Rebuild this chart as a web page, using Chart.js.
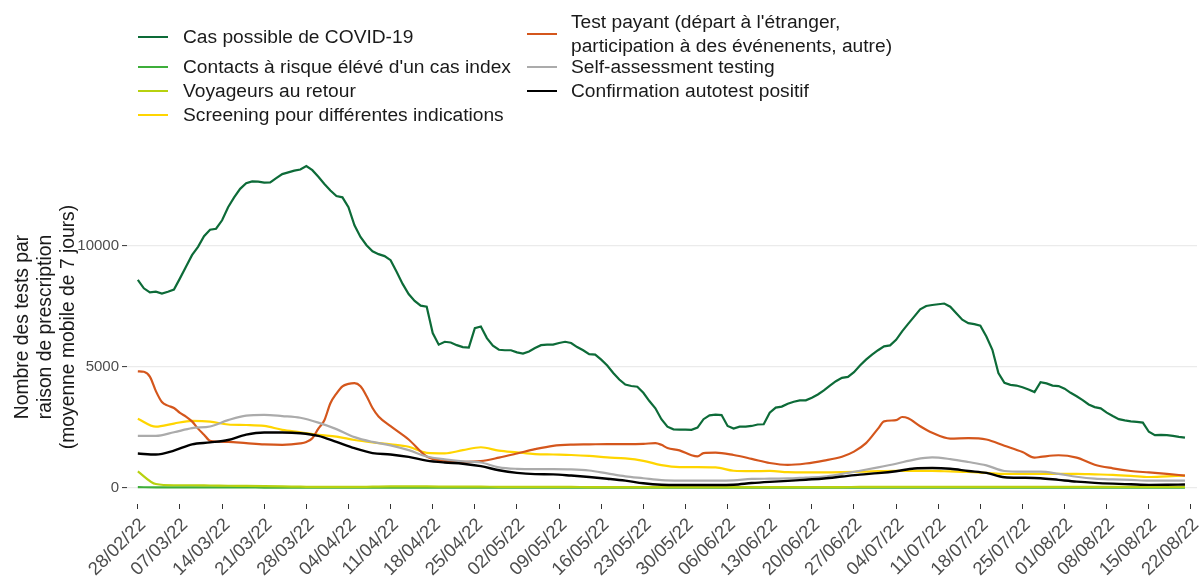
<!DOCTYPE html>
<html>
<head>
<meta charset="utf-8">
<script src="https://cdn.jsdelivr.net/npm/chart.js@4/dist/chart.umd.min.js"></script>
<style>
  html, body { margin: 0; padding: 0; background: #fff; }
  #wrap { position: relative; width: 1201px; height: 581px; overflow: hidden; }
  #c { position: absolute; left: 0; top: 0; }
  .lg { position: absolute; font-family: "Liberation Sans", Arial, sans-serif; font-size: 19.2px; color: #1a1a1a; line-height: 24px; white-space: pre; }
  .key { position: absolute; width: 30px; height: 2px; }
</style>
</head>
<body>
<div id="wrap">
  <canvas id="c" width="1201" height="581"></canvas>
  <div id="legend"></div>
</div>
<script>
// ---------- DATA ----------
const seriesNames = [
  "Cas possible de COVID-19",
  "Contacts à risque élévé d'un cas index",
  "Voyageurs au retour",
  "Screening pour différentes indications",
  "Test payant (départ à l'étranger,\nparticipation à des événenents, autre)",
  "Self-assessment testing",
  "Confirmation autotest positif"
];
const seriesColors = ["#0D6B38", "#3DAE3A", "#B7D10F", "#FFD500", "#D4561C", "#ABABAB", "#000000"];

// x tick labels (weekly, Mondays)
const xTickLabels = ["28/02/22","07/03/22","14/03/22","21/03/22","28/03/22","04/04/22","11/04/22","18/04/22",
  "25/04/22","02/05/22","09/05/22","16/05/22","23/05/22","30/05/22","06/06/22","13/06/22","20/06/22",
  "27/06/22","04/07/22","11/07/22","18/07/22","25/07/22","01/08/22","08/08/22","15/08/22","22/08/22"];
const yTickValues = [0, 5000, 10000];

// day offsets from 28/02/22
const dailyDays = Array.from({length: 175}, (_, i) => i);
const sparseDays = [0,3,6,9,12,15,18,21,24,27,30,33,36,39,42,45,48,51,54,57,60,63,66,69,72,75,78,81,84,87,
  90,93,96,99,102,105,108,111,114,117,120,123,126,129,132,135,138,141,144,147,150,153,156,159,162,165,168,171,174];
const testPayantDays = [0,1,2,3,4,5,6,7,8,9,10,11,12,15,18,21,24,27,28,29,30,31,32,33,34,35,36,37,38,39,40,42,45,48,
  51,54,57,60,63,66,69,72,75,78,81,84,86,87,88,90,92,93,94,96,99,102,105,108,111,114,117,119,121,123,124,126,127,
  128,130,132,135,138,141,144,147,149,150,153,156,159,162,165,168,171,174];

// daily values
const casPossible = [8600,8250,8080,8110,8030,8110,8200,8660,9140,9620,9960,10400,10670,10710,11060,11600,12010,12360,12590,12670,
  12660,12620,12630,12800,12970,13040,13110,13160,13300,13130,12860,12560,12290,12060,12010,11600,10850,10370,10030,9780,
  9660,9580,9410,8930,8430,8010,7730,7530,7490,6400,5920,6040,6010,5900,5820,5800,6600,6670,6190,5880,
  5710,5690,5690,5600,5550,5640,5780,5900,5920,5920,5990,6040,5990,5820,5690,5530,5510,5300,5060,4750,
  4480,4270,4210,4180,3930,3590,3290,2840,2530,2420,2410,2410,2400,2490,2840,3000,3030,3010,2560,2450,
  2530,2530,2560,2620,2630,3110,3320,3360,3480,3560,3620,3620,3730,3860,4030,4230,4410,4550,4590,4780,
  5060,5300,5510,5690,5850,5890,6120,6470,6780,7080,7380,7520,7560,7590,7620,7490,7220,6950,6810,6770,
  6700,6260,5710,4750,4340,4260,4230,4160,4070,3960,4370,4320,4230,4210,4100,3930,3790,3630,3450,3340,
  3290,3110,2970,2840,2790,2750,2730,2700,2320,2180,2190,2180,2150,2110,2080];

// values every 3 days (sparseDays)
const contacts = [30,25,25,20,20,20,20,15,15,15,15,15,15,15,15,15,15,15,15,15,15,15,15,15,15,15,15,15,15,15,
  15,15,15,15,15,15,15,15,15,15,15,15,15,15,15,15,15,15,15,15,15,15,15,15,15,15,15,15,15];
const voyageurs = [680,160,110,110,100,90,80,70,60,50,40,40,40,50,60,60,60,55,50,50,45,45,40,40,40,35,35,30,30,30,
  30,30,30,30,30,30,30,30,35,35,40,40,45,45,45,45,45,40,40,40,40,40,40,40,40,40,40,40,40];
const screening = [2860,2530,2660,2770,2740,2620,2600,2560,2400,2300,2190,2120,1980,1880,1800,1700,1450,1430,1560,1680,
  1540,1470,1400,1380,1360,1320,1260,1220,1120,940,860,860,850,710,690,700,650,640,640,650,
  670,690,700,700,700,680,660,620,580,580,580,580,580,560,540,500,450,480,510];
const selfAssessment = [2150,2150,2300,2470,2540,2800,2990,3020,2970,2900,2700,2430,2100,1900,1760,1560,1300,1180,1100,1050,
  850,790,780,780,770,720,600,480,400,320,300,300,300,310,370,380,390,430,470,580,
  710,850,1000,1170,1260,1190,1070,930,700,670,670,580,460,380,350,330,300,300,300];
const confirmation = [1420,1380,1540,1800,1880,1980,2200,2290,2290,2260,2150,1900,1640,1440,1380,1280,1130,1050,1000,900,
  730,620,570,560,510,450,380,300,190,130,120,120,120,130,200,250,290,340,390,470,
  550,610,690,800,820,790,700,620,440,420,400,330,260,210,175,150,125,130,140];

// values on testPayantDays
const testPayant = [4820,4800,4600,4000,3550,3400,3300,3100,2950,2750,2450,2200,1950,1900,1850,1800,1780,1840,1900,2050,
  2450,2800,3500,3900,4200,4300,4330,4200,3800,3300,2950,2550,2000,1300,1120,1080,1110,1250,1420,1600,
  1740,1790,1800,1810,1810,1820,1850,1780,1650,1550,1350,1300,1440,1460,1360,1200,1030,950,1010,1130,
  1290,1500,1850,2450,2750,2800,2930,2880,2550,2280,2040,2060,2000,1740,1480,1250,1280,1350,1250,960,
  810,700,640,580,510];

// ---------- BUILD ----------
function pts(days, vals) { return days.map((d, i) => ({x: d, y: vals[i]})); }
const seriesData = [
  pts(dailyDays, casPossible),
  pts(sparseDays, contacts),
  pts(sparseDays, voyageurs),
  pts(sparseDays, screening),
  pts(testPayantDays, testPayant),
  pts(sparseDays, selfAssessment),
  pts(sparseDays, confirmation)
];

const datasets = seriesData.map((data, i) => ({
  label: seriesNames[i],
  data: data,
  borderColor: seriesColors[i],
  backgroundColor: seriesColors[i],
  borderWidth: i === 6 ? 2.4 : 2.2,
  pointRadius: 0,
  fill: false,
  tension: 0,
  cubicInterpolationMode: i === 0 ? 'default' : 'monotone',
  order: 6 - i
}));

const FONT = '"Liberation Sans", Arial, sans-serif';

new Chart(document.getElementById('c'), {
  type: 'line',
  data: { datasets },
  options: {
    responsive: false,
    animation: false,
    layout: { padding: { top: 150, right: 4, left: 0, bottom: 0 } },
    plugins: { legend: { display: false }, tooltip: { enabled: false } },
    scales: {
      x: {
        type: 'linear',
        min: -1.8,
        max: 176,
        afterBuildTicks: s => { s.ticks = xTickLabels.map((l, i) => ({ value: i * 7 })); },
        afterFit: s => { s.height = 77; s.paddingLeft = 0; s.paddingRight = 0; },
        ticks: {
          callback: (v, i) => xTickLabels[i],
          autoSkip: false,
          minRotation: 45,
          maxRotation: 45,
          color: '#4D4D4D',
          font: { family: FONT, size: 18.5 },
          padding: 5,
          labelOffset: 5
        },
        grid: { drawOnChartArea: false, drawTicks: true, tickLength: 5, tickColor: '#333333', tickWidth: 1 },
        border: { display: false }
      },
      y: {
        type: 'linear',
        min: -665,
        max: 13965,
        afterBuildTicks: s => { s.ticks = yTickValues.map(v => ({ value: v })); },
        afterFit: s => { s.width = 127; },
        ticks: {
          callback: v => String(v),
          color: '#4D4D4D',
          font: { family: FONT, size: 15 },
          padding: 3
        },
        grid: { color: '#EBEBEB', lineWidth: 1.2, tickLength: 5, tickColor: '#333333', tickWidth: 1 },
        border: { display: false },
        title: {
          display: true,
          text: ["Nombre des tests par", "raison de prescription", "(moyenne mobile de 7 jours)"],
          color: '#1a1a1a',
          font: { family: FONT, size: 19.3, lineHeight: 1.19 },
          padding: { top: 11, bottom: 0 }
        }
      }
    }
  }
});

// ---------- LEGEND (HTML text) ----------
const legendSlots = [
  {kx: 138, ky: 37, tx: 183, ty: 25},
  {kx: 138, ky: 67, tx: 183, ty: 55},
  {kx: 138, ky: 91, tx: 183, ty: 79},
  {kx: 138, ky: 115, tx: 183, ty: 103},
  {kx: 527, ky: 34, tx: 571, ty: 10},
  {kx: 527, ky: 67, tx: 571, ty: 55},
  {kx: 527, ky: 91, tx: 571, ty: 79}
];
const lg = document.getElementById('legend');
seriesNames.forEach((name, i) => {
  const s = legendSlots[i];
  const k = document.createElement('div');
  k.className = 'key';
  k.style.left = s.kx + 'px'; k.style.top = (s.ky - 1) + 'px';
  k.style.background = seriesColors[i];
  lg.appendChild(k);
  const t = document.createElement('div');
  t.className = 'lg';
  t.style.left = s.tx + 'px'; t.style.top = s.ty + 'px';
  t.textContent = name;
  lg.appendChild(t);
});
</script>
</body>
</html>
